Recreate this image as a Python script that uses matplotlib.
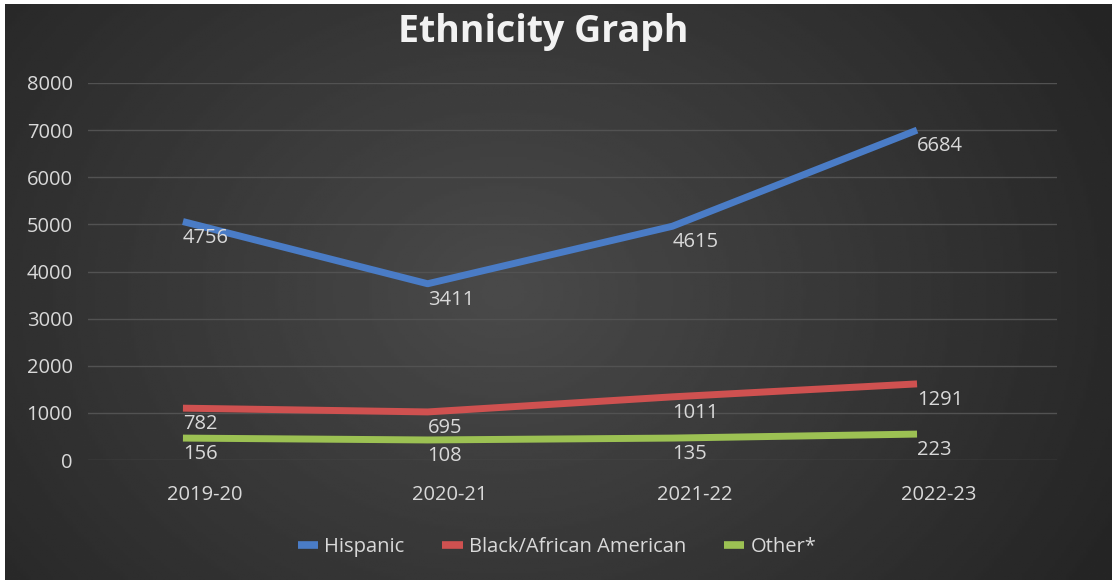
import numpy as np
import matplotlib
matplotlib.use("Agg")
import matplotlib.pyplot as plt
import matplotlib.transforms as mtransforms

# data
years = ["2019-20", "2020-21", "2021-22", "2022-23"]
series_names = ["Hispanic", "Black/African American", "Other*"]
# where the lines are drawn
hispanic_y = [5060, 3740, 4960, 7000]
black_y = [1100, 1020, 1340, 1615]
other_y = [465, 425, 465, 550]
# numbers printed as data labels
hispanic_lbl = [4756, 3411, 4615, 6684]
black_lbl = [782, 695, 1011, 1291]
other_lbl = [156, 108, 135, 223]

colors = ["#4a7cc6", "#cf5150", "#9cc153"]
txt_col = "#d9d9d9"
plt.rcParams['font.family'] = ['Open Sans', 'DejaVu Sans']
fs = 14.5

W, H = 1112, 582
fig = plt.figure(figsize=(W/100, H/100), dpi=100)
fig.patch.set_facecolor("white")

# dark radial background
bg = fig.add_axes([5/W, 2/H, 1 - 5/W, 1 - 6/H], zorder=-10)
gx, gy = np.meshgrid(np.linspace(0, 1, 400), np.linspace(0, 1, 220))
r = np.sqrt(((gx - 0.45)/0.62)**2 + ((gy - 0.5)/0.95)**2)
val = (0x4a - (0x4a - 0x25)*np.clip(r, 0, 1)) / 255.0
bg.imshow(val, cmap="gray", vmin=0, vmax=1, aspect="auto", extent=[0, 1, 0, 1])
bg.axis("off")

ax = fig.add_axes([88/W, 1 - 460/H, (1057-88)/W, (460-83)/H])
ax.patch.set_alpha(0)
x = np.arange(len(years))

for ys, lbls, c, name in zip([hispanic_y, black_y, other_y],
                             [hispanic_lbl, black_lbl, other_lbl],
                             colors, series_names):
    ax.plot(x, ys, color=c, lw=5, label=name, solid_capstyle="butt", zorder=3)
    for xi, yi, lb in zip(x, ys, lbls):
        ax.annotate(str(lb), (xi, yi), xytext=(0, -16), textcoords="offset pixels",
                    ha="left", va="center", fontsize=fs, color=txt_col, zorder=4)

ax.set_ylim(0, 8000)
ax.set_yticks(range(0, 8001, 1000))
ax.set_xlim(-0.388, 3.572)
ax.set_xticks(x)
ax.set_xticklabels(years)
ax.grid(axis="y", color="#525252", lw=1)
ax.set_axisbelow(True)
for s in ax.spines.values():
    s.set_visible(False)
ax.tick_params(length=0, colors=txt_col, labelsize=fs)
ax.tick_params(axis="y", pad=11)
ax.tick_params(axis="x", pad=18)
shift = mtransforms.ScaledTranslation(0.22, 0, fig.dpi_scale_trans)
for t in ax.get_xticklabels():
    t.set_transform(t.get_transform() + shift)

fig.text(543/W, 1 - 32/H, "Ethnicity Graph", ha="center", va="center",
         fontsize=27, fontweight="bold", color="#f2f2f2")

leg = fig.legend(loc="center", bbox_to_anchor=(557/W, 1 - 547/H), ncol=3,
                 frameon=False, fontsize=fs, handlelength=1.0, columnspacing=1.9,
                 handletextpad=0.3)
for t in leg.get_texts():
    t.set_color(txt_col)
for ln in leg.get_lines():
    ln.set_linewidth(5.5)

fig.savefig("out.png", dpi=100, facecolor=fig.get_facecolor())
